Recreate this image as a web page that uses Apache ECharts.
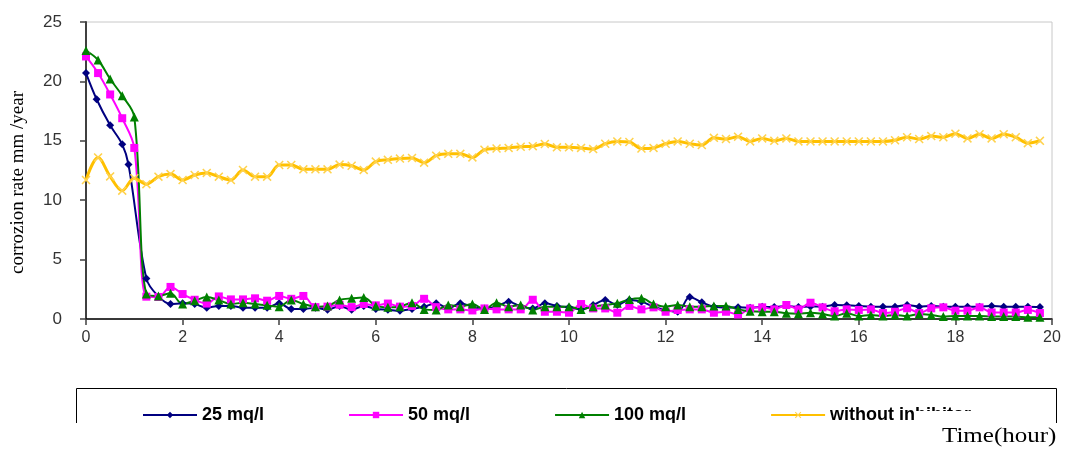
<!DOCTYPE html>
<html><head><meta charset="utf-8">
<script src="https://cdn.jsdelivr.net/npm/echarts@6/dist/echarts.min.js"></script>
<style>html,body{margin:0;padding:0;background:#fff}#c{width:1065px;height:450px}</style>
</head><body><div id="c"></div>
<script>
const hours = [
  0, 0.25, 0.5, 0.75, 1, 1.25, 1.5, 1.75,
  2, 2.25, 2.5, 2.75, 3, 3.25, 3.5, 3.75,
  4, 4.25, 4.5, 4.75, 5, 5.25, 5.5, 5.75,
  6, 6.25, 6.5, 6.75, 7, 7.25, 7.5, 7.75,
  8, 8.25, 8.5, 8.75, 9, 9.25, 9.5, 9.75,
  10, 10.25, 10.5, 10.75, 11, 11.25, 11.5, 11.75,
  12, 12.25, 12.5, 12.75, 13, 13.25, 13.5, 13.75,
  14, 14.25, 14.5, 14.75, 15, 15.25, 15.5, 15.75,
  16, 16.25, 16.5, 16.75, 17, 17.25, 17.5, 17.75,
  18, 18.25, 18.5, 18.75, 19, 19.25, 19.5, 19.75
];
const hours25 = [
  0, 0.22, 0.5, 0.75, 0.88, 1.25, 1.5, 1.75,
  2, 2.25, 2.5, 2.75, 3, 3.25, 3.5, 3.75,
  4, 4.25, 4.5, 4.75, 5, 5.25, 5.5, 5.75,
  6, 6.25, 6.5, 6.75, 7, 7.25, 7.5, 7.75,
  8, 8.25, 8.5, 8.75, 9, 9.25, 9.5, 9.75,
  10, 10.25, 10.5, 10.75, 11, 11.25, 11.5, 11.75,
  12, 12.25, 12.5, 12.75, 13, 13.25, 13.5, 13.75,
  14, 14.25, 14.5, 14.75, 15, 15.25, 15.5, 15.75,
  16, 16.25, 16.5, 16.75, 17, 17.25, 17.5, 17.75,
  18, 18.25, 18.5, 18.75, 19, 19.25, 19.5, 19.75
];
const rate25 = [
  20.7, 18.5, 16.3, 14.7, 13.0, 3.4, 1.9, 1.26,
  1.32, 1.26, 0.95, 1.1, 1.1, 0.95, 0.95, 0.95,
  1.32, 0.84, 0.84, 0.95, 0.78, 1.1, 0.78, 1.1,
  0.84, 0.78, 0.7, 0.84, 1.04, 1.32, 0.89, 1.32,
  1.04, 0.89, 1.04, 1.46, 1.04, 0.89, 1.32, 1.1,
  0.98, 0.81, 1.18, 1.6, 1.18, 1.6, 1.46, 1.04,
  0.76, 0.6, 1.85, 1.4, 1.04, 0.95, 0.98, 0.95,
  1.04, 1.0, 1.1, 1.0, 1.05, 1.04, 1.18, 1.15,
  1.1, 1.04, 1.04, 1.04, 1.18, 1.04, 1.1, 1.04,
  1.04, 1.04, 1.04, 1.1, 1.04, 1.04, 1.04, 1.0
];
const rate50 = [
  22.1, 20.7, 18.9, 16.9, 14.4, 1.88, 1.85, 2.7,
  2.1, 1.62, 1.3, 1.9, 1.65, 1.65, 1.74, 1.54,
  1.94, 1.7, 1.94, 1.0, 1.04, 1.2, 1.0, 1.26,
  1.15, 1.3, 1.04, 1.1, 1.7, 1.0, 0.81, 0.81,
  0.72, 0.89, 0.81, 0.81, 0.81, 1.62, 0.61, 0.61,
  0.53, 1.26, 0.89, 0.89, 0.53, 1.1, 0.81, 0.98,
  0.61, 0.76, 0.81, 0.81, 0.53, 0.61, 0.38, 0.89,
  0.98, 0.81, 1.18, 0.81, 1.37, 0.98, 0.65, 0.81,
  0.76, 0.81, 0.5, 0.61, 0.9, 0.5, 0.9, 0.98,
  0.7, 0.7, 0.98, 0.55, 0.55, 0.55, 0.76, 0.5
];
const rate100 = [
  22.6, 21.8, 20.2, 18.8, 17.0, 2.1, 1.94, 2.16,
  1.26, 1.54, 1.85, 1.6, 1.26, 1.37, 1.26, 1.15,
  1.04, 1.6, 1.26, 1.04, 1.1, 1.6, 1.74, 1.82,
  1.1, 0.98, 1.04, 1.37, 0.81, 0.76, 1.18, 1.04,
  1.26, 0.81, 1.37, 1.04, 1.18, 0.76, 1.04, 1.04,
  1.04, 0.81, 1.04, 1.18, 1.32, 1.65, 1.74, 1.26,
  1.04, 1.18, 1.04, 1.04, 1.1, 1.1, 0.81, 0.65,
  0.61, 0.61, 0.48, 0.45, 0.53, 0.42, 0.25, 0.48,
  0.25, 0.34, 0.25, 0.34, 0.25, 0.42, 0.34, 0.2,
  0.25, 0.25, 0.25, 0.2, 0.2, 0.2, 0.15, 0.15
];
const rateNone = [
  11.7, 13.6, 12.0, 10.8, 11.85, 11.35, 11.98, 12.2,
  11.7, 12.12, 12.3, 11.98, 11.7, 12.54, 11.98, 11.98,
  12.96, 12.96, 12.6, 12.6, 12.6, 13.0, 12.9, 12.55,
  13.25, 13.4, 13.5, 13.55, 13.16, 13.75, 13.9, 13.9,
  13.6, 14.25, 14.35, 14.4, 14.5, 14.55, 14.73, 14.45,
  14.45, 14.4, 14.3, 14.75, 14.95, 14.9, 14.35, 14.4,
  14.75, 14.95, 14.75, 14.65, 15.25, 15.15, 15.35, 14.95,
  15.2, 15.0, 15.2, 14.95, 14.95, 14.95, 14.95, 14.95,
  14.95, 14.95, 14.95, 15.05, 15.3, 15.15, 15.4, 15.3,
  15.6, 15.2, 15.55, 15.2, 15.55, 15.3, 14.8, 15.0
];
const seriesNames = ['25 mq/l', '50 mq/l', '100 mq/l', 'without inhibitor'];
const yAxisTitle = 'corrozion rate mm /year';
const xAxisTitle = 'Time(hour)';

function pairs(xs, ys) { return ys.map((y, i) => [xs[i], y]); }

const xMark = 'path://M0,1.2L1.2,0L5,3.8L8.8,0L10,1.2L6.2,5L10,8.8L8.8,10L5,6.2L1.2,10L0,8.8L3.8,5Z';

const chart = echarts.init(document.getElementById('c'), null, { renderer: 'canvas' });
const axisCol = '#404040';
chart.setOption({
  animation: false,
  backgroundColor: '#fff',
  grid: { left: 86, top: 22, right: 13, bottom: 131, show: true, borderColor: '#c8c8c8', borderWidth: 1 },
  xAxis: {
    type: 'value', min: 0, max: 20, interval: 2,
    axisLine: { lineStyle: { color: '#000', width: 1.5 } },
    axisTick: { show: true, length: 6, lineStyle: { color: axisCol, width: 1.5 } },
    axisLabel: { margin: 11, color: '#333', fontFamily: 'Liberation Sans', fontSize: 16 },
    splitLine: { show: false }
  },
  yAxis: {
    type: 'value', min: 0, max: 25, interval: 5,
    name: yAxisTitle, nameLocation: 'middle', nameGap: 58,
    nameTextStyle: { fontFamily: 'Liberation Serif', fontSize: 19, color: '#000', padding: [0, 24, 0, 0] },
    axisLine: { lineStyle: { color: axisCol, width: 2 } },
    axisTick: { show: true, length: 6, lineStyle: { color: axisCol, width: 1.5 } },
    axisLabel: { margin: 24, color: '#333', fontFamily: 'Liberation Sans', fontSize: 17 },
    splitLine: { show: false }
  },
  legend: {
    left: 137, top: 401, itemWidth: 54, itemHeight: 8, itemGap: 84,
    textStyle: { fontFamily: 'Liberation Sans', fontWeight: 'bold', fontSize: 18, color: '#000' },
    data: seriesNames
  },
  series: [
    { name: seriesNames[0], type: 'line', data: pairs(hours25, rate25), smooth: 0.35,
      symbol: 'diamond', symbolSize: 8, color: '#000080', lineStyle: { width: 2, color: '#000080' }, itemStyle: { color: '#000080' } },
    { name: seriesNames[1], type: 'line', data: pairs(hours, rate50), smooth: 0.35,
      symbol: 'rect', symbolSize: 8, color: '#ff00ff', lineStyle: { width: 2, color: '#ff00ff' }, itemStyle: { color: '#ff00ff' } },
    { name: seriesNames[2], type: 'line', data: pairs(hours, rate100), smooth: 0.35,
      symbol: 'triangle', symbolSize: 9, color: '#008000', lineStyle: { width: 2, color: '#008000' }, itemStyle: { color: '#008000' } },
    { name: seriesNames[3], type: 'line', data: pairs(hours, rateNone), smooth: 0.35,
      symbol: xMark, symbolSize: 9, color: '#ffc000', lineStyle: { width: 3, color: '#ffc000' }, itemStyle: { color: '#ffd24d' } }
  ],
  graphic: [
    { type: 'polyline', silent: true, shape: { points: [[76.5, 423], [76.5, 388.5], [1056.5, 388.5], [1056.5, 423]] },
      style: { stroke: '#000', lineWidth: 1, fill: null } },
    { type: 'rect', silent: true, z: 100, shape: { x: 916, y: 411, width: 100, height: 13 }, style: { fill: '#fff' } },
    { type: 'rect', silent: true, z: 100, shape: { x: 60, y: 423, width: 1000, height: 4 }, style: { fill: '#fff' } },
    { type: 'text', left: 942, top: 427, style: { text: xAxisTitle, font: '20px "Liberation Serif"', fill: '#000' }, scaleX: 1.25 }
  ]
});
</script></body></html>
